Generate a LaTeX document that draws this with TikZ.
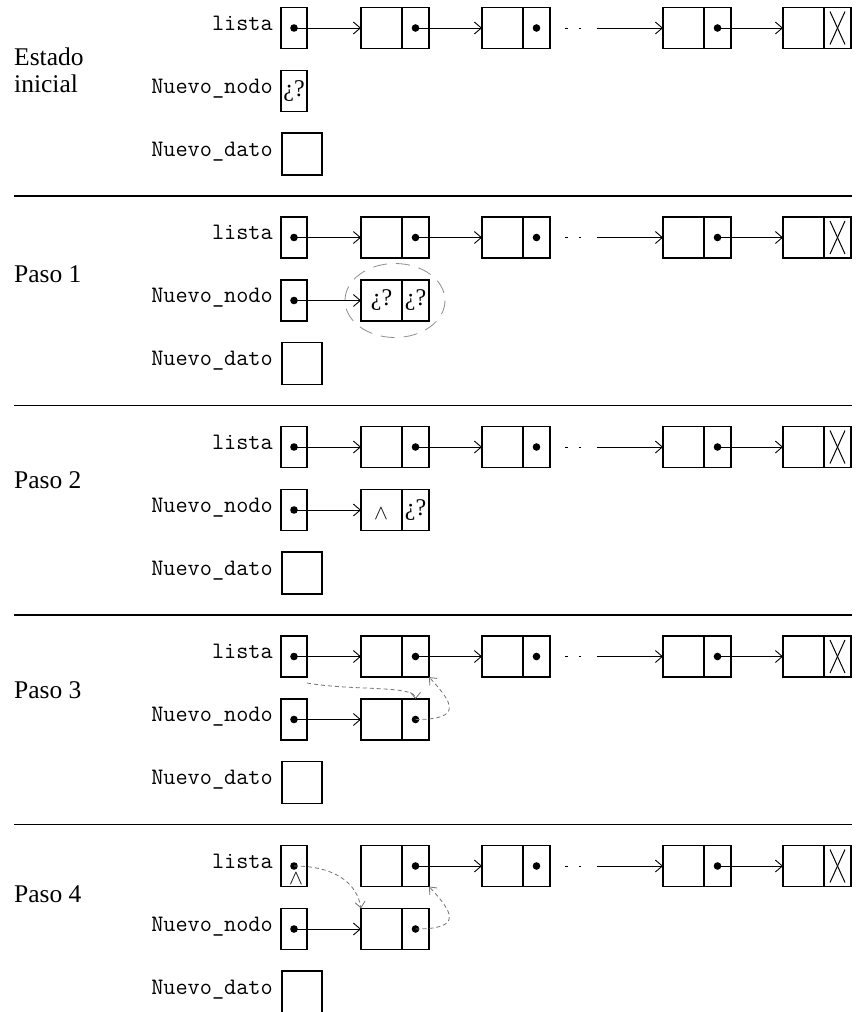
\documentclass[tikz,border=0pt]{standalone}
\usepackage{fontspec}
\setmainfont{Liberation Serif}
\usetikzlibrary{positioning,arrows.meta}

\begin{document}
\begin{tikzpicture}[
  x=1pt, y=-1pt,
  cell/.style={draw, line width=1.4pt, inner sep=0pt, outer sep=0pt,
    minimum height=41pt},
  ptrbox/.style={cell, minimum width=26pt},
  datbox/.style={cell, minimum width=41pt},
  lnkbox/.style={cell, minimum width=27pt},
  valbox/.style={cell, minimum width=40pt, minimum height=42pt},
  varname/.style={anchor=mid east, inner sep=0pt,
    font=\ttfamily\fontsize{23.6}{26}\selectfont},
  steplabel/.style={anchor=base west, inner sep=0pt,
    font=\fontsize{25.5}{28}\selectfont},
  qmark/.style={font=\fontsize{24}{26}\selectfont},
  caret/.style={inner sep=0pt, font=\fontsize{20}{20}\selectfont},
  ptr/.style={-{Straight Barb[length=7pt,width=12pt]}, line width=0.9pt},
  pencil/.style={-{Straight Barb[length=6pt,width=10pt]}, line width=0.8pt,
    black!55, dash pattern=on 4pt off 3pt},
  circled/.style={line width=0.8pt, black!45, dash pattern=on 14pt off 9pt},
  rule/.style={line width=1.1pt}
]
\useasboundingbox (0,0) rectangle (861,1012);

% rows shared by all five states
\foreach \s/\y in {0/28,1/237.5,2/447,3/656.5,4/866}{
  \node[varname] (tl\s) at (273,\y) {lista};
  \node[ptrbox] (lista\s) at (294,\y) {};
  \node[datbox] (da\s) at (381.5,\y) {};
  \node[lnkbox, right=0pt of da\s] (la\s) {};
  \node[datbox] (db\s) at (502.5,\y) {};
  \node[lnkbox, right=0pt of db\s] (lb\s) {};
  \node[datbox] (dc\s) at (683.5,\y) {};
  \node[lnkbox, right=0pt of dc\s] (lc\s) {};
  \node[datbox] (dd\s) at (803.5,\y) {};
  \node[lnkbox, right=0pt of dd\s] (ld\s) {};
  \coordinate (ga\s) at (565,\y);
  \coordinate (gc\s) at (584,\y);
  \coordinate (gb\s) at (597,\y);
  \node[varname] (tn\s) at (273,\y+63) {Nuevo\_nodo};
  \node[ptrbox] (nuevo\s) at (294,\y+63) {};
  \node[varname] (tv\s) at (273,\y+126) {Nuevo\_dato};
  \node[valbox] (dato\s) at (302,\y+126) {};
  \foreach \p in {lista\s,la\s,lb\s,lc\s}
    \fill (\p.center) circle (3.8pt);
  \draw[ptr] (la\s.center) -- (db\s.west);
  \draw[line width=1pt, dash pattern=on 2.5pt off 11pt] (ga\s) -- (gc\s);
  \draw[ptr] (gb\s) -- (dc\s.west);
  \draw[ptr] (lc\s.center) -- (dd\s.west);
  \draw[line width=1pt] ([xshift=6pt,yshift=-4pt]ld\s.north west) -- ([xshift=-6pt,yshift=4pt]ld\s.south east);
  \draw[line width=1pt] ([xshift=6pt,yshift=4pt]ld\s.south west) -- ([xshift=-6pt,yshift=-4pt]ld\s.north east);
}
\foreach \s in {0,...,3}
  \draw[ptr] (lista\s.center) -- (da\s.west);
\foreach \r in {196,405.5,615,824.5}
  \draw[rule] (14,\r) -- (852,\r);

\node[steplabel] (est) at (14,65) {Estado};
\node[steplabel] (ini) at (14,92) {inicial};
\node[steplabel] (p1) at (14,282) {Paso 1};
\node[steplabel] (p2) at (14,488) {Paso 2};
\node[steplabel] (p3) at (14,698) {Paso 3};
\node[steplabel] (p4) at (14,902) {Paso 4};

% estado inicial
\node[qmark] (q0) at (nuevo0.center) {¿?};

% paso 1
\node[datbox, qmark] (nd1) at (381.5,300.5) {¿?};
\node[lnkbox, qmark, right=0pt of nd1] (nl1) {¿?};
\draw[circled] (395,300.5) ellipse [x radius=50, y radius=37];

% paso 2
\node[datbox] (nd2) at (381.5,510) {};
\node[lnkbox, qmark, right=0pt of nd2] (nl2) {¿?};
\node[caret] (c2) at (381,514) {$\wedge$};

% paso 3
\node[datbox] (nd3) at (381.5,719.5) {};
\node[lnkbox, right=0pt of nd3] (nl3) {};

% paso 4
\node[datbox] (nd4) at (381.5,929) {};
\node[lnkbox, right=0pt of nd4] (nl4) {};
\node[caret] (c4) at (296,879) {$\wedge$};

\foreach \s in {1,...,4}{
  \fill (nuevo\s.center) circle (3.8pt);
  \draw[ptr] (nuevo\s.center) -- (nd\s.west);
}
\foreach \s in {3,4}{
  \fill (nl\s.center) circle (3.8pt);
  \draw[pencil] (nl\s.center) .. controls +(48,0) and +(24,26) .. (la\s.south east);
}
\draw[pencil] ([yshift=-6pt]lista3.south east) .. controls +(45,8) and +(0,-14) .. (nl3.north);
\draw[pencil] (lista4.center) .. controls +(40,0) and +(-4,-26) .. (nd4.north west);
\end{tikzpicture}
\end{document}
